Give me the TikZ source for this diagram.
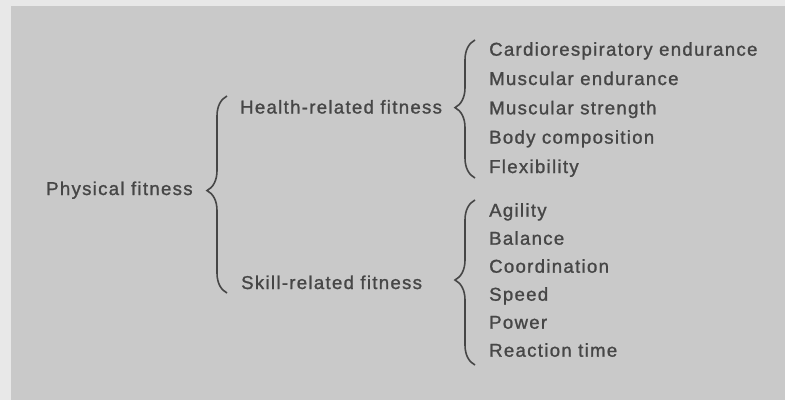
\documentclass[tikz,border=0pt]{standalone}
\usepackage{fontspec}
\setmainfont{Liberation Sans}[LetterSpace=7,FakeBold=1.2]
\usepackage{xcolor}
\definecolor{pgray}{RGB}{201,201,201}
\definecolor{edge}{RGB}{232,232,232}
\definecolor{ink}{RGB}{70,70,70}
\usetikzlibrary{decorations.pathreplacing}
\tikzset{
  lbl/.style={anchor=base west,inner sep=0pt,text=ink,font=\fontsize{18.6}{22}\selectfont},
  brc/.style={draw=ink,line width=1.6pt,decorate,decoration={brace,amplitude=20pt,aspect=#1}},
  brc/.default=0.5
}

\begin{document}
\begin{tikzpicture}[x=1pt,y=-1pt]
\fill[edge] (0,0) rectangle (785,400);
\fill[pgray] (11,6) rectangle (785,400);
\useasboundingbox (0,0) rectangle (785,400);
\node[lbl] (pf) at (46,195) {Physical fitness};
\node[lbl] (hf) at (240,113.5) {Health-related fitness};
\node[lbl] (sf) at (241,289) {Skill-related fitness};
\node[lbl] (h1) at (489,55.7) {Cardiorespiratory endurance};
\node[lbl] (h2) at (489,85) {Muscular endurance};
\node[lbl] (h3) at (489,114.3) {Muscular strength};
\node[lbl] (h4) at (489,143.6) {Body composition};
\node[lbl] (h5) at (489,173) {Flexibility};
\node[lbl] (s1) at (489,216.7) {Agility};
\node[lbl] (s2) at (489,244.7) {Balance};
\node[lbl] (s3) at (489,272.7) {Coordination};
\node[lbl] (s4) at (489,300.7) {Speed};
\node[lbl] (s5) at (489,328.7) {Power};
\node[lbl] (s6) at (489,356.7) {Reaction time};
\coordinate (b1) at (227,293);
\coordinate (b2) at (227,96);
\coordinate (b3) at (475,178);
\coordinate (b4) at (475,40);
\coordinate (b5) at (475,365);
\coordinate (b6) at (475,200);
\draw[brc=0.52] (b1) -- (b2);
\draw[brc=0.51] (b3) -- (b4);
\draw[brc=0.515] (b5) -- (b6);
\end{tikzpicture}
\end{document}
